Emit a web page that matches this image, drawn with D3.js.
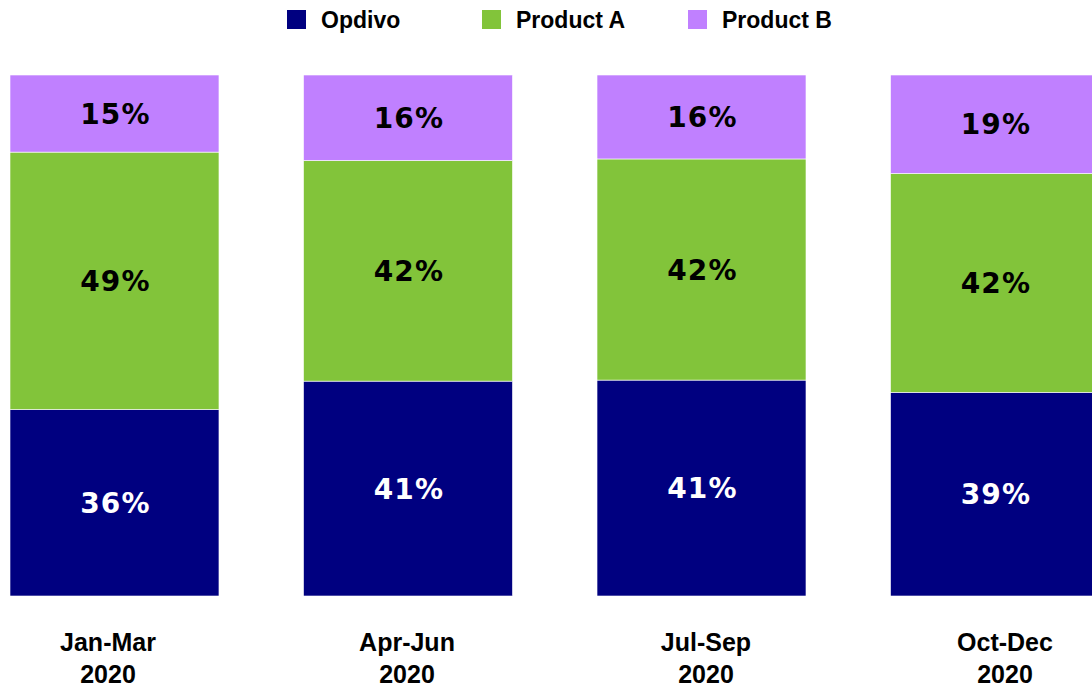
<!DOCTYPE html>
<html>
<head>
<meta charset="utf-8">
<script src="https://cdn.jsdelivr.net/npm/d3@7"></script>
<style>
  html, body { margin: 0; padding: 0; background: #fff; }
  svg { display: block; }
</style>
</head>
<body>
<svg id="chart" width="1092" height="689"></svg>
<script>
const categories = ["Jan-Mar", "Apr-Jun", "Jul-Sep", "Oct-Dec"];
const yearLabels = ["2020", "2020", "2020", "2020"];
const seriesNames = ["Opdivo", "Product A", "Product B"];
const opdivo   = [35.8, 41.2, 41.4, 39.1];
const productA = [49.4, 42.3, 42.4, 42.0];
const productB = [14.8, 16.4, 16.1, 18.9];
const colors = ["#000080", "#82C43A", "#C080FF"];
const labelColors = ["#ffffff", "#000000", "#000000"];

const rows = categories.map((c, i) => ({
  cat: c,
  "Opdivo": opdivo[i],
  "Product A": productA[i],
  "Product B": productB[i]
}));

const svg = d3.select("#chart");

const x = d3.scaleBand()
  .domain(categories)
  .range([10, 1099.5])
  .paddingInner(0.288)
  .paddingOuter(0);

// category label positions
const xLabel = d3.scalePoint().domain(categories).range([108, 1005]);

const y = d3.scaleLinear().domain([0, 1]).range([596, 75]);

const stack = d3.stack().keys(seriesNames).offset(d3.stackOffsetExpand);
const series = stack(rows);

const color = d3.scaleOrdinal().domain(seriesNames).range(colors);
const labelColor = d3.scaleOrdinal().domain(seriesNames).range(labelColors);

const groups = svg.append("g").selectAll("g")
  .data(series).join("g")
  .attr("fill", d => color(d.key));

groups.selectAll("rect")
  .data(d => d.map(v => Object.assign(v, { key: d.key })))
  .join("rect")
  .attr("x", d => x(d.data.cat))
  .attr("width", x.bandwidth())
  .attr("y", d => y(d[1]))
  .attr("height", d => y(d[0]) - y(d[1]))
  .attr("stroke", "#ffffff")
  .attr("stroke-width", 0.6);

groups.selectAll("text")
  .data(d => d)
  .join("text")
  .attr("x", d => x(d.data.cat) + x.bandwidth() / 2 + 1)
  .attr("y", d => (y(d[0]) + y(d[1])) / 2)
  .attr("dy", "0.36em")
  .attr("text-anchor", "middle")
  .attr("font-family", "DejaVu Sans, Verdana, sans-serif")
  .attr("font-weight", "bold")
  .attr("font-size", 28)
  .attr("letter-spacing", 1.2)
  .attr("fill", d => labelColor(d.key))
  .text(d => Math.round(d.data[d.key]) + "%");

// category axis labels
const xl = svg.append("g");
categories.forEach((c, i) => {
  const t = xl.append("text")
    .attr("text-anchor", "middle")
    .attr("font-family", "Liberation Sans, Arial, sans-serif")
    .attr("font-weight", "bold")
    .attr("font-size", 25)
    .attr("fill", "#000");
  t.append("tspan").attr("x", xLabel(c)).attr("y", 651).text(c);
  t.append("tspan").attr("x", xLabel(c)).attr("y", 683).text(yearLabels[i]);
});

// legend
const legendX = [287, 482, 688];
const lg = svg.append("g");
seriesNames.forEach((s, i) => {
  lg.append("rect")
    .attr("x", legendX[i]).attr("y", 10)
    .attr("width", 19).attr("height", 19)
    .attr("fill", color(s));
  lg.append("text")
    .attr("x", legendX[i] + 34).attr("y", 28)
    .attr("font-family", "Liberation Sans, Arial, sans-serif")
    .attr("font-weight", "bold")
    .attr("font-size", 23)
    .attr("fill", "#000")
    .text(s);
});
</script>
</body>
</html>
